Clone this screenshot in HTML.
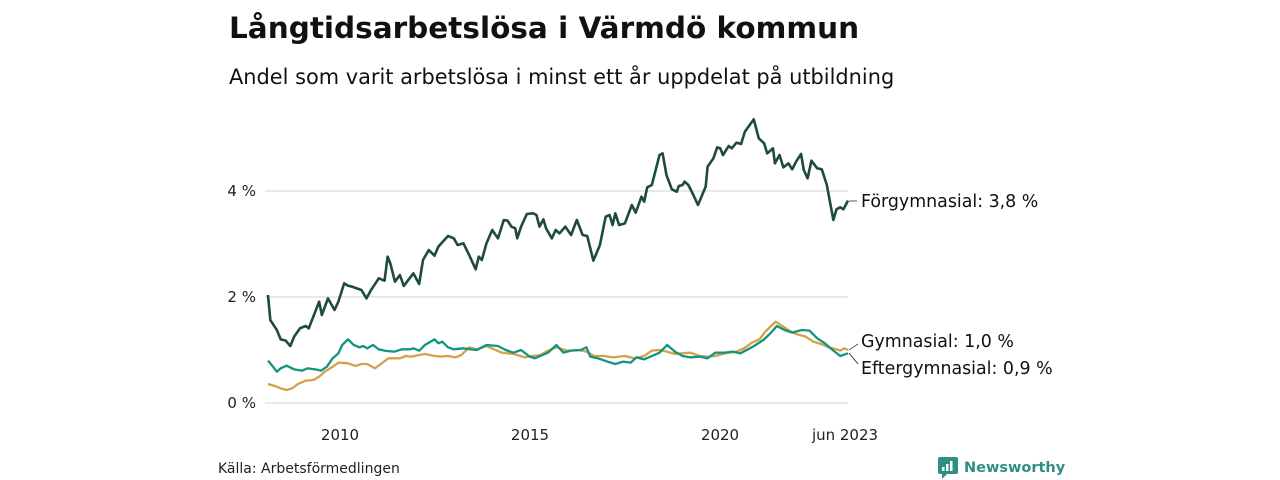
<!DOCTYPE html>
<html><head><meta charset="utf-8"><style>
body{margin:0;width:1280px;height:480px;background:#fff;font-family:"Liberation Sans","DejaVu Sans",sans-serif;color:#111;overflow:hidden}
</style></head><body>
<svg width="1280" height="480" xmlns="http://www.w3.org/2000/svg" style="position:absolute;left:0;top:0">
<text x="229" y="38" font-family="DejaVu Sans, sans-serif" font-weight="bold" font-size="29.5" fill="#111">Långtidsarbetslösa i Värmdö kommun</text>
<text x="229" y="84" font-family="DejaVu Sans, sans-serif" font-size="20.9" fill="#111">Andel som varit arbetslösa i minst ett år uppdelat på utbildning</text>
<g stroke="#e2e2e6" stroke-width="1.5">
<line x1="265" y1="191" x2="848" y2="191"/><line x1="265" y1="297" x2="848" y2="297"/><line x1="265" y1="403" x2="848" y2="403"/>
</g>
<g font-family="DejaVu Sans, sans-serif" font-size="15" fill="#222" text-anchor="end">
<text x="256" y="196">4 %</text><text x="256" y="302">2 %</text><text x="256" y="408">0 %</text>
</g>
<g font-family="DejaVu Sans, sans-serif" font-size="15" fill="#222" text-anchor="middle">
<text x="340" y="440">2010</text><text x="530" y="440">2015</text><text x="720" y="440">2020</text><text x="845" y="440">jun 2023</text>
</g>
<g transform="matrix(0.3846 0 0 0.33333 259.54 110)" fill="none" stroke-width="2.3" stroke-linejoin="round">
<polyline vector-effect="non-scaling-stroke" stroke="#d4a04a" points="22,822 40,828 55,835 70,840 85,835 100,822 120,812 140,810 155,800 170,785 190,770 205,758 230,760 250,768 265,762 280,762 300,775 320,758 335,745 365,745 380,738 395,740 415,735 430,732 450,737 470,740 490,738 510,742 525,735 545,712 565,718 590,708 610,718 630,728 660,732 690,742 710,738 730,735 750,722 772,712 800,722 830,720 850,725 870,738 895,738 920,742 950,738 965,742 975,745 1000,738 1020,722 1040,720 1060,725 1080,732 1100,730 1120,728 1145,738 1165,740 1185,738 1210,730 1240,725 1260,715 1280,698 1300,688 1315,665 1330,648 1342,635 1355,645 1375,660 1395,672 1420,680 1440,695 1460,702 1480,712 1500,718 1510,722 1520,715 1530,720"/>
<polyline vector-effect="non-scaling-stroke" stroke="#13947f" points="22,752 35,770 45,785 55,775 70,767 90,778 110,782 125,775 145,778 160,782 175,770 190,745 205,730 215,705 230,688 245,705 260,712 270,708 280,715 295,705 310,718 330,723 350,725 370,718 390,718 400,715 415,722 430,705 455,688 465,700 475,695 490,712 505,718 530,715 550,718 565,720 590,705 620,708 640,720 660,728 680,720 700,738 715,745 730,738 750,728 772,705 790,728 810,722 835,720 850,712 860,740 880,745 905,755 925,762 945,755 965,758 980,742 1000,748 1020,738 1040,728 1060,705 1080,725 1100,738 1120,742 1145,740 1165,745 1185,728 1210,728 1230,725 1250,730 1270,718 1290,705 1310,690 1330,668 1345,648 1365,660 1385,668 1410,660 1430,662 1450,685 1470,700 1490,720 1510,738 1530,730"/>
<polyline vector-effect="non-scaling-stroke" stroke="#1f4a40" stroke-width="2.6" points="22,555 28,630 45,660 55,688 68,692 80,708 90,680 105,655 120,648 128,655 155,575 162,615 178,565 195,600 205,575 220,520 230,527 240,530 265,540 278,565 290,540 310,505 325,512 333,440 340,460 352,515 365,495 375,528 400,490 415,522 425,450 440,420 455,437 465,410 490,378 505,385 515,405 530,400 545,435 562,478 570,440 578,450 590,400 605,360 620,385 635,330 645,332 655,350 665,355 670,385 680,350 695,312 712,310 720,315 728,350 738,328 745,355 760,385 770,360 780,370 795,350 810,375 825,330 840,375 852,378 868,452 885,405 900,320 910,315 918,345 925,310 935,345 950,340 968,285 978,308 993,260 1000,275 1008,232 1020,225 1040,135 1048,130 1058,195 1072,238 1085,245 1090,228 1100,225 1105,215 1115,225 1128,255 1140,285 1160,230 1165,170 1180,145 1190,112 1198,115 1205,135 1220,108 1228,115 1240,98 1252,102 1262,65 1285,28 1298,85 1312,100 1320,130 1335,115 1340,160 1352,135 1362,172 1375,160 1385,178 1395,155 1408,132 1415,180 1425,205 1435,152 1450,175 1462,178 1475,225 1492,330 1500,298 1510,292 1518,298 1530,272"/>
</g>
<g stroke="#555" stroke-width="1">
<line x1="849" y1="201" x2="857" y2="201"/><line x1="849" y1="350" x2="858" y2="344"/><line x1="849" y1="353" x2="858" y2="364"/>
</g>
<g font-family="DejaVu Sans, sans-serif" font-size="17.4" fill="#111">
<text x="861" y="207">Förgymnasial: 3,8 %</text>
<text x="861" y="347">Gymnasial: 1,0 %</text>
<text x="861" y="374">Eftergymnasial: 0,9 %</text>
</g>
<text x="218" y="473" font-family="DejaVu Sans, sans-serif" font-size="14" fill="#222">Källa: Arbetsförmedlingen</text>
<g>
<rect x="938" y="457" width="20" height="17" rx="2" fill="#2f8f80"/>
<polygon points="942,473 948,473 942,479" fill="#2f8f80"/>
<rect x="942" y="467" width="2.5" height="4" fill="#fff"/><rect x="946" y="464" width="2.5" height="7" fill="#fff"/><rect x="950" y="461" width="2.5" height="10" fill="#fff"/>
<text x="964" y="472" font-family="DejaVu Sans, sans-serif" font-weight="bold" font-size="14.5" fill="#2f8f80">Newsworthy</text>
</g>
</svg>
</body></html>
